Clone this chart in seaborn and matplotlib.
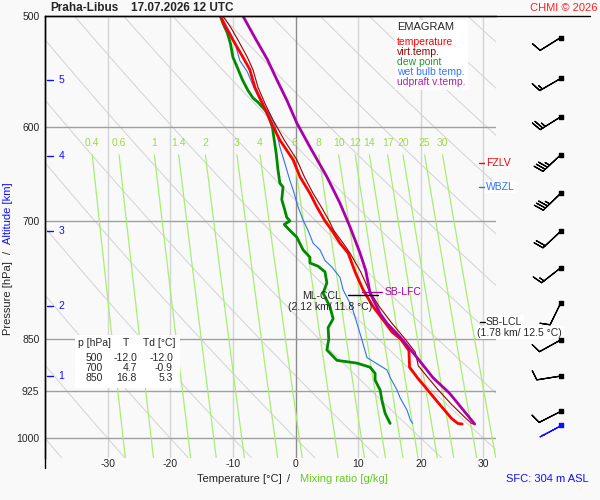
import numpy as np
import pandas as pd
import matplotlib
matplotlib.use('Agg')
import matplotlib.pyplot as plt
import seaborn as sns
from matplotlib.lines import Line2D
from matplotlib.patches import Rectangle
from matplotlib.ticker import NullLocator

# sounding profiles (T in degC, p in hPa)
temp_p = [500, 509, 520, 535, 546, 562, 577, 593, 613, 633, 651, 669, 684, 700, 711, 726, 738, 761, 784, 806, 826, 840, 850, 866, 890, 906, 924, 946, 968, 976, 977]
temp_t = [-12.0, -11.2, -10.0, -8.4, -7.3, -6.5, -5.3, -4.1, -2.5, -0.4, 0.7, 2.3, 3.4, 4.7, 5.8, 7.1, 8.4, 9.5, 10.8, 12.4, 14.2, 15.4, 16.8, 18.1, 18.2, 19.5, 21.1, 23.0, 24.9, 25.9, 26.6]

virt_p = [500, 509, 520, 535, 546, 562, 577, 593, 613, 633, 651, 669, 684, 699, 711, 726, 738, 761, 784, 806, 826, 851, 868, 888, 906, 924, 946, 968, 976, 977]
virt_t = [-11.6, -10.4, -9.2, -7.7, -6.8, -6.0, -4.9, -3.6, -1.8, 0.2, 1.4, 2.8, 4.1, 5.3, 6.1, 7.6, 8.7, 10.4, 11.7, 13.4, 15.2, 17.6, 19.1, 19.6, 21.2, 22.8, 24.9, 27.2, 28.1, 28.4]

dew_p = [500, 506, 514, 523, 535, 544, 555, 565, 572, 576, 586, 600, 613, 626, 644, 658, 662, 676, 688, 696, 700, 704, 711, 719, 734, 743, 750, 754, 761, 775, 788, 806, 822, 834, 850, 865, 880, 884, 890, 899, 909, 924, 940, 960, 970, 976]
dew_t = [-12.0, -11.6, -10.9, -10.4, -10.0, -9.3, -8.5, -7.6, -6.8, -6.0, -4.5, -3.7, -3.4, -3.1, -2.8, -2.5, -2.0, -2.2, -1.7, -1.4, -0.9, -1.8, -0.9, 0.2, 1.2, 2.3, 2.3, 3.6, 4.7, 5.0, 4.4, 5.5, 6.0, 5.2, 5.3, 5.0, 6.6, 9.8, 11.9, 12.7, 12.7, 13.5, 13.8, 14.3, 14.8, 15.1]

wet_p = [500, 514, 524, 538, 548, 563, 574, 584, 598, 620, 637, 655, 665, 684, 699, 711, 726, 734, 747, 755, 768, 784, 806, 828, 851, 876, 894, 905, 924, 936, 955, 970, 976]
wet_t = [-11.9, -10.4, -9.6, -8.9, -7.7, -6.6, -5.7, -4.5, -3.3, -2.5, -1.7, -0.9, -0.4, 0.4, 1.2, 2.0, 2.8, 3.9, 4.7, 5.8, 7.1, 7.6, 9.0, 9.8, 10.6, 11.4, 14.6, 15.1, 16.2, 16.7, 17.8, 18.3, 18.7]

parcel_p = [500, 518, 537, 555, 574, 596, 620, 651, 680, 707, 738, 759, 788, 815, 828, 847, 876, 905, 929, 977]
parcel_t = [-8.4, -6.5, -4.5, -3.0, -1.4, 0.2, 2.3, 5.0, 7.1, 8.7, 10.3, 11.2, 11.9, 13.5, 14.6, 16.7, 19.4, 21.9, 24.6, 28.6]

# wind barbs (direction deg, speed kt)
wind_p = [518, 554, 590, 628, 669, 712, 756, 801, 851, 903, 957]
wind_dir = [238, 240, 238, 227, 226, 227, 232, 206, 241, 261, 243]
wind_spd = [10, 15, 25, 35, 35, 20, 15, 10, 10, 10, 10]
sfc_p, sfc_dir, sfc_spd = 978, 242, 5

# diagram furniture
p_levels = [500, 600, 700, 850, 925, 1000]
t_ticks = [-30, -20, -10, 0, 10, 20, 30]
mix_ratios = [0.4, 0.6, 1, 1.4, 2, 3, 4, 6, 8, 10, 12, 14, 17, 20, 25, 30]
alt_km = [1, 2, 3, 4, 5]
alt_p = [903, 805, 712, 629, 555]
table_rows = [('500', '-12.0', '-12.0'), ('700', '4.7', '-0.9'), ('850', '16.8', '5.3')]

sns.set_style('white')
plt.rcParams['font.family'] = ['Liberation Sans', 'DejaVu Sans']
bg = '#f9f9f9'

fig = plt.figure(figsize=(6, 5), dpi=100, facecolor=bg)
ax = fig.add_axes([45 / 600, 1 - 458 / 500, 451 / 600, 442 / 500], facecolor=bg)
ax.set_yscale('log')
ax.set_xlim(-40, 32)
ax.set_ylim(1033, 500)

# background: adiabat-like guide lines
pp = np.linspace(480, 1060, 60)
for t0 in range(-40, 170, 10):
    ax.plot((t0 + 273.15) * (pp / 1000) ** 0.35 - 273.15, pp, color='#d2d2d2', lw=0.7, zorder=1)

for t in t_ticks:
    ax.axvline(t, color='#8c8c8c' if t == 0 else '#d4d4d4', lw=1, zorder=1.2)
for p in p_levels[1:]:
    ax.axhline(p, color='#a0a0a0', lw=1, zorder=1.2)

# mixing ratio lines
pm = np.linspace(628, 1040, 40)
for w in mix_ratios:
    e = w * pm / (622.0 + w)
    a = np.log(e / 6.112)
    ax.plot(243.5 * a / (17.67 - a), pm, color='#a8ee70', lw=0.9, zorder=1.5)
    ax.text(243.5 * a[0] / (17.67 - a[0]), 616, f'{w:g}', color='#a0d84a',
            fontsize=7.5, ha='center', va='center', zorder=2)

# profiles
sns.lineplot(x=dew_t, y=dew_p, sort=False, estimator=None, color='#008a00', lw=2.0, ax=ax, zorder=4)
sns.lineplot(x=wet_t, y=wet_p, sort=False, estimator=None, color='#2f74e8', lw=0.8, ax=ax, zorder=4)
sns.lineplot(x=temp_t, y=temp_p, sort=False, estimator=None, color='#ff0000', lw=2.0, ax=ax, zorder=5)
sns.lineplot(x=virt_t, y=virt_p, sort=False, estimator=None, color='#990000', lw=0.8, ax=ax, zorder=6)
sns.lineplot(x=parcel_t, y=parcel_p, sort=False, estimator=None, color='#aa00aa', lw=2.0, ax=ax, zorder=7)

ax.set_yticks(p_levels)
ax.set_yticklabels([str(p) for p in p_levels])
ax.yaxis.set_minor_locator(NullLocator())
ax.set_xticks(t_ticks)
ax.set_xticklabels([str(t) for t in t_ticks])
ax.tick_params(axis='both', length=0, labelsize=7.5)
ax.tick_params(axis='y', pad=4)
ax.tick_params(axis='x', pad=1)
ax.set_xlabel('')
ax.set_ylabel('')
for s in ['right', 'bottom']:
    ax.spines[s].set_visible(False)
for s in ['top', 'left']:
    ax.spines[s].set_color('black')
    ax.spines[s].set_linewidth(1)

def fx(x):
    return x / 600

def fy(y):
    return 1 - y / 500

fig.add_artist(Line2D([fx(45), fx(590)], [fy(16), fy(16)], color='black', lw=1))
fig.add_artist(Line2D([fx(45), fx(45)], [fy(16), fy(468)], color='black', lw=1))

# altitude markers
yt = ax.get_yaxis_transform()
for km, p in zip(alt_km, alt_p):
    ax.plot([0.005, 0.018], [p, p], color='#1010ff', lw=1, transform=yt, clip_on=False)
    ax.text(0.03, p, str(km), color='#1010ff', fontsize=7.5, va='center', transform=yt)

# freezing / wet-bulb zero levels
for p, lab, col in [(636.5, 'FZLV', '#ff0000'), (662, 'WBZL', '#2f74e8')]:
    ax.plot([29.3, 30.2], [p, p], color=col, lw=1, clip_on=False, zorder=8)
    ax.text(30.4, p, lab, color=col, fontsize=7.5, va='center', zorder=8,
            bbox=dict(facecolor='white', edgecolor='none', pad=1))

# LFC / CCL / LCL annotations
ax.plot([10.6, 13.8], [786, 786], color='#aa00aa', lw=1, zorder=8)
ax.text(14.2, 786, 'SB-LFC', color='#aa00aa', fontsize=7.5, va='center', zorder=8)
ax.plot([8.4, 13.2], [790, 790], color='black', lw=1, zorder=8)
ax.text(7.2, 792, 'ML-CCL', fontsize=7.5, ha='right', va='center', zorder=8)
ax.text(5.5, 806, '(2.12 km/ 11.8 °C)', fontsize=7.5, ha='center', va='center', zorder=8)
ax.text(30.4, 826, 'SB-LCL', fontsize=7.5, va='center', zorder=9,
        bbox=dict(facecolor='white', edgecolor='none', pad=1))
ax.plot([29.4, 30.2], [826, 826], color='black', lw=1, clip_on=False, zorder=9)
ax.text(35.8, 841, '(1.78 km/ 12.5 °C)', fontsize=7.5, ha='center', va='center', zorder=9,
        bbox=dict(facecolor='white', edgecolor='none', pad=1))

# legend box
fig.patches.append(Rectangle((fx(395), fy(90)), 73 / 600, 70 / 500, transform=fig.transFigure,
                             facecolor='white', edgecolor='none'))
fig.text(fx(397), fy(27), 'EMAGRAM', fontsize=8, va='center')
legend_items = [('temperature', '#ff0000'), ('virt.temp.', '#990000'), ('dew point', '#229922'),
                ('wet bulb temp.', '#3377ff'), ('udpraft v.temp.', '#aa22aa')]
for i, (lab, col) in enumerate(legend_items):
    fig.text(fx(397), fy(42 + 10 * i), lab, color=col, fontsize=7.5, va='center')

# table box
fig.patches.append(Rectangle((fx(75), fy(388)), 105 / 600, 53 / 500, transform=fig.transFigure,
                             facecolor='white', edgecolor='none'))
fig.text(fx(78), fy(343), 'p [hPa]', fontsize=7.5, va='center')
fig.text(fx(126), fy(343), 'T', fontsize=7.5, va='center', ha='center')
fig.text(fx(143), fy(343), 'Td [°C]', fontsize=7.5, va='center')
for i, (pv, tv, tdv) in enumerate(table_rows):
    yy = fy(358 + 10 * i)
    fig.text(fx(103), yy, pv, fontsize=7.5, va='center', ha='right')
    fig.text(fx(137), yy, tv, fontsize=7.5, va='center', ha='right')
    fig.text(fx(173), yy, tdv, fontsize=7.5, va='center', ha='right')

# titles and axis labels
fig.text(fx(50), fy(8), 'Praha-Libus', fontsize=8.5, fontweight='bold', va='center')
fig.text(fx(131), fy(8), '17.07.2026 12 UTC', fontsize=8.5, fontweight='bold', va='center')
fig.text(fx(597), fy(8), 'CHMI © 2026', fontsize=8, color='#ff2020', va='center', ha='right')
fig.text(fx(8), fy(298), 'Pressure [hPa]', fontsize=8, rotation=90, va='center', ha='center')
fig.text(fx(8), fy(252), '/', fontsize=8, rotation=90, va='center', ha='center')
fig.text(fx(8), fy(213), 'Altitude [km]', fontsize=8, rotation=90, va='center', ha='center', color='#1010ff')
fig.text(fx(239), fy(479), 'Temperature [°C]', fontsize=8, va='center', ha='center')
fig.text(fx(289), fy(479), '/', fontsize=8, va='center', ha='center')
fig.text(fx(344), fy(479), 'Mixing ratio [g/kg]', fontsize=8, va='center', ha='center', color='#66cc22')
fig.text(fx(589), fy(479), 'SFC: 304 m ASL', fontsize=8, va='center', ha='right', color='#1010ff')

# wind barbs column
bx = fig.add_axes([496 / 600, 1 - 458 / 500, 104 / 600, 442 / 500])
bx.set_yscale('log')
bx.set_ylim(1033, 500)
bx.set_xlim(0, 1)
bx.axis('off')
wd = np.radians(wind_dir)
ws = np.array(wind_spd, dtype=float)
u = -ws * np.sin(wd)
v = -ws * np.cos(wd)
xb = np.full(len(wind_p), 0.622)
bx.barbs(xb, wind_p, u, v, length=5.9, lw=0.9, color='black')
bx.scatter(xb, wind_p, marker='s', s=5, color='black', zorder=3)
sd = np.radians(sfc_dir)
bx.barbs([0.622], [sfc_p], [-sfc_spd * np.sin(sd)], [-sfc_spd * np.cos(sd)], length=5.9, lw=0.9,
         color='#1010ff', sizes=dict(height=0))
bx.scatter([0.622], [sfc_p], marker='s', s=5, color='#1010ff', zorder=3)

fig.savefig('out.png', dpi=100, facecolor=bg)
